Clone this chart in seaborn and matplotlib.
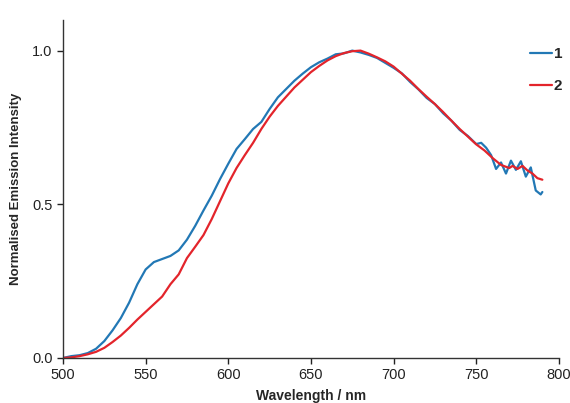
import matplotlib
matplotlib.use("Agg")
import matplotlib.pyplot as plt
import seaborn as sns
import pandas as pd

# Emission spectra
wavelength_1 = [500, 505, 510, 515, 520, 525, 530, 535, 540, 545, 550, 555, 560, 565, 570,
                575, 580, 585, 590, 595, 600, 605, 610, 615, 620, 625, 630, 635, 640, 645,
                650, 655, 660, 665, 670, 675, 680, 685, 690, 695, 700, 705, 710, 715, 720,
                725, 730, 735, 740, 745, 750, 753, 756, 759, 762, 765, 768, 771, 774, 777,
                780, 783, 786, 789, 790]
intensity_1 = [0.000, 0.006, 0.009, 0.016, 0.030, 0.055, 0.090, 0.130, 0.180, 0.240, 0.288,
               0.312, 0.322, 0.332, 0.350, 0.385, 0.430, 0.480, 0.528, 0.582, 0.632, 0.680,
               0.712, 0.745, 0.768, 0.810, 0.848, 0.875, 0.902, 0.925, 0.946, 0.962, 0.974,
               0.988, 0.991, 1.000, 0.994, 0.986, 0.976, 0.960, 0.944, 0.926, 0.898, 0.874,
               0.846, 0.826, 0.796, 0.772, 0.742, 0.722, 0.696, 0.700, 0.684, 0.660, 0.615,
               0.636, 0.600, 0.642, 0.612, 0.640, 0.590, 0.620, 0.545, 0.532, 0.540]

wavelength_2 = [500, 505, 510, 515, 520, 525, 530, 535, 540, 545, 550, 555, 560, 565, 570,
                575, 580, 585, 590, 595, 600, 605, 610, 615, 620, 625, 630, 635, 640, 645,
                650, 655, 660, 665, 670, 675, 680, 685, 690, 695, 700, 705, 710, 715, 720,
                725, 730, 735, 740, 745, 750, 755, 760, 765, 770, 772, 775, 778, 781, 784,
                787, 790]
intensity_2 = [0.000, 0.002, 0.006, 0.012, 0.020, 0.033, 0.052, 0.073, 0.098, 0.125, 0.150,
               0.175, 0.200, 0.240, 0.272, 0.325, 0.362, 0.400, 0.452, 0.510, 0.568, 0.618,
               0.660, 0.700, 0.745, 0.785, 0.820, 0.850, 0.880, 0.905, 0.930, 0.950, 0.968,
               0.982, 0.992, 0.998, 1.000, 0.990, 0.978, 0.965, 0.948, 0.925, 0.902, 0.875,
               0.850, 0.826, 0.800, 0.772, 0.745, 0.720, 0.695, 0.675, 0.650, 0.628, 0.618,
               0.625, 0.615, 0.625, 0.610, 0.600, 0.585, 0.580]

x_ticks = [500, 550, 600, 650, 700, 750, 800]
y_ticks = [0.0, 0.5, 1.0]

df1 = pd.DataFrame({"Wavelength": wavelength_1, "Intensity": intensity_1})
df2 = pd.DataFrame({"Wavelength": wavelength_2, "Intensity": intensity_2})

sns.set_style("ticks")
plt.rcParams["font.family"] = ["Liberation Sans", "DejaVu Sans"]

fig = plt.figure(figsize=(5.7, 4.03), dpi=100)
ax = fig.add_axes([0.1105, 0.1117, 0.870, 0.839])

sns.lineplot(data=df1, x="Wavelength", y="Intensity", color="#2278b5", lw=1.6, label="1", ax=ax)
sns.lineplot(data=df2, x="Wavelength", y="Intensity", color="#e3242b", lw=1.6, label="2", ax=ax)

ax.set_xlim(500, 800)
ax.set_ylim(0, 1.1)
ax.set_xticks(x_ticks)
ax.set_yticks(y_ticks)
ax.set_yticklabels([f"{v:.1f}" for v in y_ticks])
ax.tick_params(labelsize=10.5, colors="#222222", length=4, width=1)
for s in ["left", "bottom"]:
    ax.spines[s].set_color("#333333")
    ax.spines[s].set_linewidth(1)
sns.despine(ax=ax)

ax.set_xlabel("Wavelength / nm", fontsize=10, fontweight="bold", labelpad=5)
ax.set_ylabel("Normalised Emission Intensity", fontsize=9.5, fontweight="bold", labelpad=7)

ax.legend(loc="upper right", bbox_to_anchor=(1.035, 0.96), frameon=False,
          handlelength=1.5, handletextpad=0.1, labelspacing=1.2,
          prop={"weight": "bold", "size": 11})

plt.savefig("out.png", dpi=100)
